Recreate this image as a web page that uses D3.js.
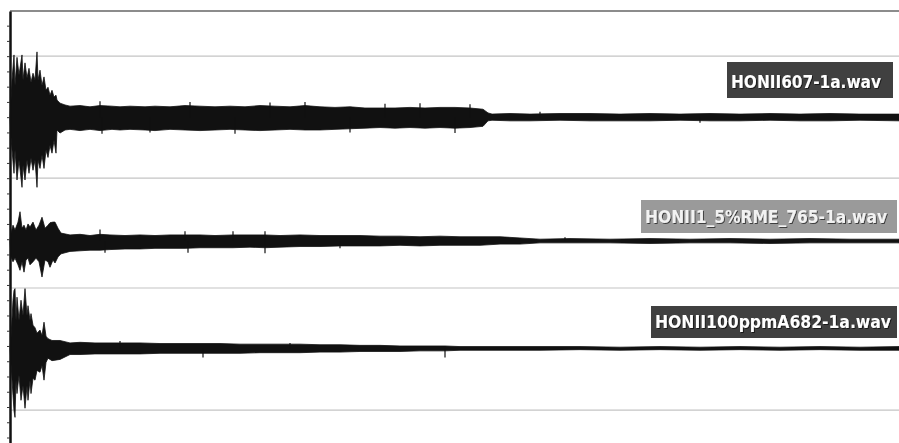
<!DOCTYPE html>
<html>
<head>
<meta charset="utf-8">
<script src="https://cdn.jsdelivr.net/npm/d3@7"></script>
<style>
html,body{margin:0;padding:0;background:#fff;}
svg{display:block;}
</style>
</head>
<body>
<div id="chart"></div>
<script>
// time in seconds, amplitude normalised (1 = one gridline step from the channel centre)
const files = ["HONII607-1a.wav", "HONII1_5%RME_765-1a.wav", "HONII100ppmA682-1a.wav"];
const channelOffsets = [0, -2.03, -3.79];
const gridValues = [1, -1, -2.8, -4.8];

const t1 = [0.01,0.02,0.04,0.05,0.07,0.09,0.12,0.13,0.15,0.17,0.19,0.21,0.23,0.25,0.27,0.28,0.30,0.32,0.34,0.36,0.38,0.40,0.42,0.44,0.46,0.47,0.50,0.55,0.60,0.70,0.80,0.90,1.02,1.10,1.20,1.35,1.45,1.60,1.75,1.90,2.05,2.20,2.35,2.50,2.65,2.80,2.95,3.10,3.25,3.40,3.55,3.70,3.85,4.00,4.15,4.30,4.45,4.60,4.73,4.78,4.82,5.00,5.20,5.50,5.80,6.10,6.40,6.70,7.00,7.30,7.60,7.90,8.20,8.50,8.89];
const hi1 = [0.28,0.61,1.02,0.52,0.98,0.69,1.02,0.61,0.89,0.64,0.80,0.57,0.72,0.61,1.07,0.61,0.77,0.52,0.66,0.44,0.49,0.36,0.44,0.33,0.36,0.28,0.23,0.20,0.18,0.19,0.17,0.19,0.18,0.17,0.18,0.17,0.18,0.17,0.19,0.18,0.17,0.18,0.17,0.19,0.18,0.17,0.19,0.17,0.16,0.17,0.15,0.15,0.15,0.16,0.15,0.16,0.16,0.15,0.13,0.07,0.05,0.06,0.05,0.06,0.06,0.05,0.06,0.05,0.06,0.05,0.06,0.05,0.06,0.05,0.05];
const lo1 = [-0.33,-0.54,-0.92,-0.54,-1.03,-0.70,-1.15,-0.79,-1.03,-0.70,-0.92,-0.67,-0.87,-0.70,-1.15,-0.70,-0.84,-0.62,-0.84,-0.54,-0.66,-0.46,-0.59,-0.38,-0.59,-0.21,-0.26,-0.21,-0.20,-0.22,-0.20,-0.22,-0.20,-0.21,-0.20,-0.21,-0.22,-0.20,-0.21,-0.22,-0.21,-0.20,-0.21,-0.22,-0.21,-0.20,-0.21,-0.21,-0.20,-0.19,-0.18,-0.17,-0.18,-0.17,-0.18,-0.17,-0.18,-0.17,-0.15,-0.06,-0.05,-0.06,-0.06,-0.05,-0.06,-0.06,-0.06,-0.05,-0.06,-0.06,-0.05,-0.06,-0.06,-0.05,-0.06];

const t2 = [0.01,0.03,0.05,0.08,0.10,0.12,0.14,0.16,0.18,0.20,0.23,0.26,0.29,0.32,0.35,0.38,0.40,0.43,0.45,0.48,0.51,0.60,0.70,0.80,0.90,1.00,1.15,1.30,1.45,1.60,1.75,1.90,2.05,2.23,2.40,2.55,2.70,2.90,3.10,3.30,3.50,3.70,3.90,4.10,4.30,4.50,4.70,4.90,5.10,5.30,5.60,6.00,6.40,6.80,7.20,7.60,8.00,8.40,8.89];
const hi2 = [0.13,0.26,0.18,0.31,0.48,0.21,0.26,0.18,0.28,0.23,0.31,0.18,0.26,0.39,0.21,0.26,0.30,0.31,0.31,0.21,0.13,0.10,0.11,0.09,0.11,0.10,0.09,0.10,0.09,0.10,0.10,0.10,0.09,0.10,0.10,0.10,0.09,0.10,0.09,0.09,0.09,0.08,0.08,0.07,0.08,0.07,0.07,0.07,0.05,0.03,0.04,0.03,0.04,0.03,0.04,0.03,0.04,0.03,0.03];
const lo2 = [-0.26,-0.34,-0.28,-0.39,-0.48,-0.34,-0.51,-0.31,-0.28,-0.39,-0.34,-0.28,-0.34,-0.59,-0.31,-0.34,-0.43,-0.31,-0.36,-0.26,-0.21,-0.17,-0.16,-0.15,-0.15,-0.14,-0.13,-0.13,-0.12,-0.12,-0.12,-0.11,-0.11,-0.11,-0.10,-0.11,-0.10,-0.09,-0.09,-0.08,-0.08,-0.08,-0.07,-0.08,-0.07,-0.07,-0.07,-0.05,-0.05,-0.03,-0.03,-0.03,-0.04,-0.03,-0.03,-0.04,-0.03,-0.03,-0.03];

const t3 = [0.01,0.03,0.04,0.05,0.06,0.07,0.09,0.11,0.13,0.15,0.17,0.18,0.20,0.21,0.23,0.25,0.27,0.30,0.32,0.34,0.36,0.38,0.42,0.50,0.60,0.70,0.85,1.00,1.15,1.30,1.50,1.70,1.93,2.10,2.30,2.50,2.70,2.90,3.10,3.30,3.50,3.70,3.90,4.10,4.35,4.50,4.65,4.90,5.30,5.70,6.10,6.50,6.90,7.30,7.70,8.10,8.50,8.89];
const hi3 = [0.18,0.79,0.95,0.98,0.46,0.84,0.46,0.79,0.54,0.98,0.54,0.70,0.46,0.57,0.38,0.34,0.25,0.30,0.21,0.43,0.20,0.16,0.13,0.13,0.09,0.10,0.09,0.09,0.09,0.09,0.08,0.08,0.08,0.08,0.07,0.07,0.07,0.07,0.06,0.06,0.05,0.05,0.04,0.04,0.04,0.03,0.03,0.03,0.03,0.03,0.02,0.03,0.02,0.03,0.02,0.03,0.02,0.03];
const lo3 = [-0.25,-0.77,-1.02,-1.13,-0.52,-0.74,-0.44,-0.85,-0.61,-0.98,-0.61,-0.85,-0.52,-0.74,-0.49,-0.52,-0.36,-0.39,-0.28,-0.52,-0.23,-0.16,-0.20,-0.18,-0.10,-0.10,-0.09,-0.09,-0.09,-0.09,-0.08,-0.08,-0.08,-0.08,-0.08,-0.07,-0.07,-0.07,-0.06,-0.06,-0.05,-0.05,-0.05,-0.04,-0.04,-0.03,-0.03,-0.03,-0.03,-0.02,-0.03,-0.02,-0.03,-0.02,-0.03,-0.02,-0.03,-0.03];

// single-sample peaks sticking out of the body: [time, amplitude]
const spikes1 = [[0.90,0.26],[0.92,-0.27],[1.40,-0.25],[1.80,0.25],[2.25,-0.27],[2.60,0.24],[2.95,0.25],[3.40,-0.25],[3.75,0.22],[4.10,0.23],[4.45,-0.26],[4.60,0.21],[5.30,0.09],[6.90,-0.09]];
const spikes2 = [[0.90,0.19],[0.95,-0.19],[1.75,0.16],[1.78,-0.19],[2.23,0.16],[2.55,-0.20],[2.55,0.16],[3.30,-0.12],[5.55,0.06]];
const spikes3 = [[1.10,0.12],[1.93,-0.15],[2.80,0.09],[4.35,-0.15]];

const duration = 8.89;

const W = 899, H = 443;
const M = {top: 11, left: 10};

const svg = d3.select("#chart").append("svg").attr("width", W).attr("height", H);

svg.append("defs").append("filter").attr("id", "shadow")
  .attr("x", "-5%").attr("y", "-20%").attr("width", "110%").attr("height", "140%")
  .append("feDropShadow").attr("dx", 1).attr("dy", 1).attr("stdDeviation", 0.6)
  .attr("flood-color", "#000").attr("flood-opacity", 0.6);

const x = d3.scaleLinear().domain([0, duration]).range([M.left, W]);
const y = d3.scaleLinear().domain([1.74, -5.34]).range([M.top, H]);

// gridlines
svg.append("g").selectAll("line").data(gridValues).join("line")
  .attr("x1", M.left).attr("x2", W)
  .attr("y1", d => y(d)).attr("y2", d => y(d))
  .attr("stroke", "#c4c4c4").attr("stroke-width", 1.2);

// top frame
svg.append("line").attr("x1", M.left).attr("x2", W).attr("y1", M.top).attr("y2", M.top)
  .attr("stroke", "#666").attr("stroke-width", 1.5);

const channels = [
  {t: t1, hi: hi1, lo: lo1, spikes: spikes1},
  {t: t2, hi: hi2, lo: lo2, spikes: spikes2},
  {t: t3, hi: hi3, lo: lo3, spikes: spikes3}
];

channels.forEach((c, i) => {
  const off = channelOffsets[i];
  const pts = c.t.map((t, k) => ({t, hi: c.hi[k], lo: c.lo[k]}));
  const area = d3.area()
    .x(d => x(d.t))
    .y0(d => y(off + d.lo))
    .y1(d => y(off + d.hi));
  svg.append("path").datum([{t: 0, hi: 0, lo: 0}, ...pts])
    .attr("d", area).attr("fill", "#111").attr("stroke", "#111").attr("stroke-width", 0.8);
  svg.append("g").selectAll("line").data(c.spikes).join("line")
    .attr("x1", d => x(d[0])).attr("x2", d => x(d[0]))
    .attr("y1", y(off)).attr("y2", d => y(off + d[1]))
    .attr("stroke", "#111").attr("stroke-width", 1.2);
});

// left axis with small ticks, no labels
const tickVals = d3.range(-21, 7).map(i => i * 0.25);
const axis = svg.append("g").attr("transform", `translate(${M.left},0)`)
  .call(d3.axisLeft(y).tickValues(tickVals).tickSize(3).tickSizeOuter(0).tickFormat(""));
axis.select(".domain").attr("stroke", "#111").attr("stroke-width", 2.5);
axis.selectAll(".tick line").attr("stroke", "#333").attr("stroke-width", 1);

// file name tags
const tags = [
  {box: [727, 62, 166, 36], tx: 731, base: 88, w: 150, size: 18, fill: "#404040", color: "#fff"},
  {box: [641, 200, 256, 33], tx: 645, base: 223, w: 242, size: 18, fill: "#9a9a9a", color: "#f2f2f2"},
  {box: [651, 306, 246, 32], tx: 655, base: 328, w: 236, size: 17, fill: "#404040", color: "#fff"}
];
tags.forEach((g, i) => {
  svg.append("rect").attr("x", g.box[0]).attr("y", g.box[1])
    .attr("width", g.box[2]).attr("height", g.box[3]).attr("fill", g.fill);
  svg.append("text").attr("x", g.tx).attr("y", g.base)
    .attr("textLength", g.w).attr("lengthAdjust", "spacingAndGlyphs")
    .attr("font-family", "'DejaVu Sans Condensed','DejaVu Sans',sans-serif")
    .attr("font-weight", "bold").attr("font-size", g.size)
    .attr("filter", "url(#shadow)")
    .attr("fill", g.color).text(files[i]);
});
</script>
</body>
</html>
